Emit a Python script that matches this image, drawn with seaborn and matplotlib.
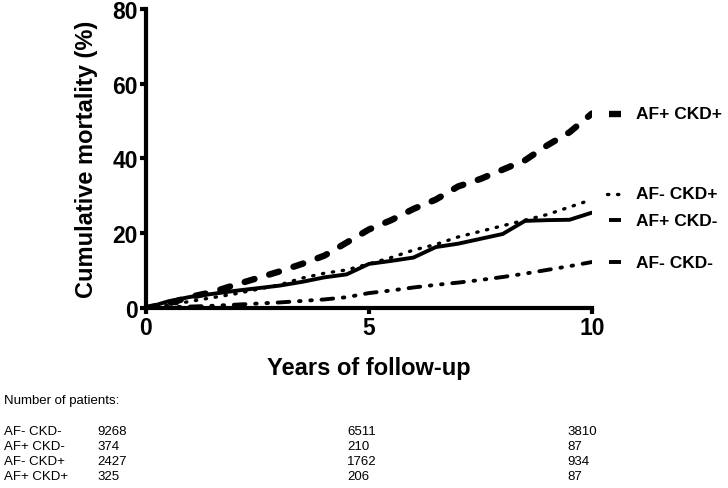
import matplotlib
matplotlib.use("Agg")
import matplotlib.pyplot as plt
import seaborn as sns

sns.set_style("ticks")
plt.rcParams["font.family"] = ["Liberation Sans", "DejaVu Sans"]
for key in ["text.color", "axes.labelcolor", "xtick.color", "ytick.color", "axes.edgecolor"]:
    plt.rcParams[key] = "black"

# follow-up grid (years) and cumulative mortality (%) per group
years = [0, 0.5, 1, 1.5, 2, 2.5, 3, 3.5, 4, 4.5, 5, 5.5, 6, 6.5, 7, 7.5, 8, 8.5, 9, 9.5, 10]
af_neg_ckd_neg = [0, 0.2, 0.4, 0.6, 0.9, 1.2, 1.5, 1.9, 2.3, 2.9, 4.0, 4.7, 5.5, 6.2, 6.8, 7.5, 8.3, 9.2, 10.2, 11.2, 12.3]
af_pos_ckd_neg = [0, 1.8, 3.0, 3.8, 4.6, 5.3, 6.0, 7.0, 8.2, 9.0, 11.8, 12.6, 13.5, 16.3, 17.2, 18.5, 19.8, 23.3, 23.5, 23.6, 25.5]
af_neg_ckd_pos = [0, 0.8, 1.8, 2.8, 3.8, 5.0, 6.2, 8.0, 9.3, 10.2, 11.8, 13.5, 15.5, 17.0, 19.0, 20.5, 22.0, 23.5, 25.0, 27.0, 29.0]
af_pos_ckd_pos = [0, 1.2, 3.0, 4.3, 6.2, 8.0, 9.8, 11.8, 14.0, 17.5, 21.0, 23.5, 26.5, 29.0, 32.5, 34.5, 37.0, 39.5, 43.5, 47.0, 52.0]

groups = ["AF- CKD-", "AF+ CKD-", "AF- CKD+", "AF+ CKD+"]
at_risk_years = [0, 5, 10]
at_risk = {
    "AF- CKD-": [9268, 6511, 3810],
    "AF+ CKD-": [374, 210, 87],
    "AF- CKD+": [2427, 1762, 934],
    "AF+ CKD+": [325, 206, 87],
}

series = {
    "AF- CKD-": af_neg_ckd_neg,
    "AF+ CKD-": af_pos_ckd_neg,
    "AF- CKD+": af_neg_ckd_pos,
    "AF+ CKD+": af_pos_ckd_pos,
}
styles = {
    "AF- CKD-": dict(linestyle=(0, (3, 2.5, 0.4, 2.5, 0.4, 2.5)), linewidth=2.8),
    "AF+ CKD-": dict(linestyle="-", linewidth=2.8),
    "AF- CKD+": dict(linestyle=(0, (0.4, 2.6)), linewidth=2.4),
    "AF+ CKD+": dict(linestyle=(0, (1.6, 2.4)), linewidth=4.6),
}
label_shift = {"AF- CKD-": 0, "AF+ CKD-": -2, "AF- CKD+": 1.5, "AF+ CKD+": 0}

fig = plt.figure(figsize=(7.28, 4.89), dpi=100)
ax = fig.add_axes([0.2005, 0.368, 0.6125, 0.612])

for g in groups:
    sns.lineplot(x=years, y=series[g], ax=ax, color="black",
                 solid_capstyle="round", dash_capstyle="round", **styles[g])
    yl = series[g][-1] + label_shift[g]
    if g == "AF- CKD+":
        ax.plot([10.33, 10.7], [yl, yl], color="black", clip_on=False,
                linewidth=2.4, linestyle=(0, (0.4, 2.6)), dash_capstyle="round")
    else:
        ax.plot([10.38, 10.65], [yl, yl], color="black", clip_on=False,
                linewidth=styles[g]["linewidth"], solid_capstyle="butt")
    ax.text(11.0, yl, g, fontsize=12.5, fontweight="bold", va="center", ha="left")

ax.set_xlim(0, 10)
ax.set_ylim(0, 80)
ax.set_xticks([0, 5, 10])
ax.set_yticks([0, 20, 40, 60, 80])
ax.set_xlabel("Years of follow-up", fontsize=17, fontweight="bold", labelpad=12)
ax.set_ylabel("Cumulative mortality (%)", fontsize=17, fontweight="bold", labelpad=10)
for lab in ax.get_xticklabels() + ax.get_yticklabels():
    lab.set_fontweight("bold")
ax.tick_params(labelsize=16.5, width=3, length=4, pad=2)
for side in ["left", "bottom"]:
    ax.spines[side].set_linewidth(3)
sns.despine(ax=ax)

# number at risk table
tf = dict(fontsize=9.5, family=["Liberation Sans Narrow", "Liberation Sans", "DejaVu Sans"])
fig.text(0.005, 1 - 401 / 489, "Number of patients:", va="center", **tf)
col_x = [97 / 728, 347 / 728, 567 / 728]
for i, g in enumerate(groups):
    y = 1 - (432 + 15 * i) / 489
    fig.text(0.005, y, g, va="center", **tf)
    for j, yr in enumerate(at_risk_years):
        fig.text(col_x[j], y, str(at_risk[g][j]), va="center", **tf)

fig.savefig("out.png", dpi=100)
